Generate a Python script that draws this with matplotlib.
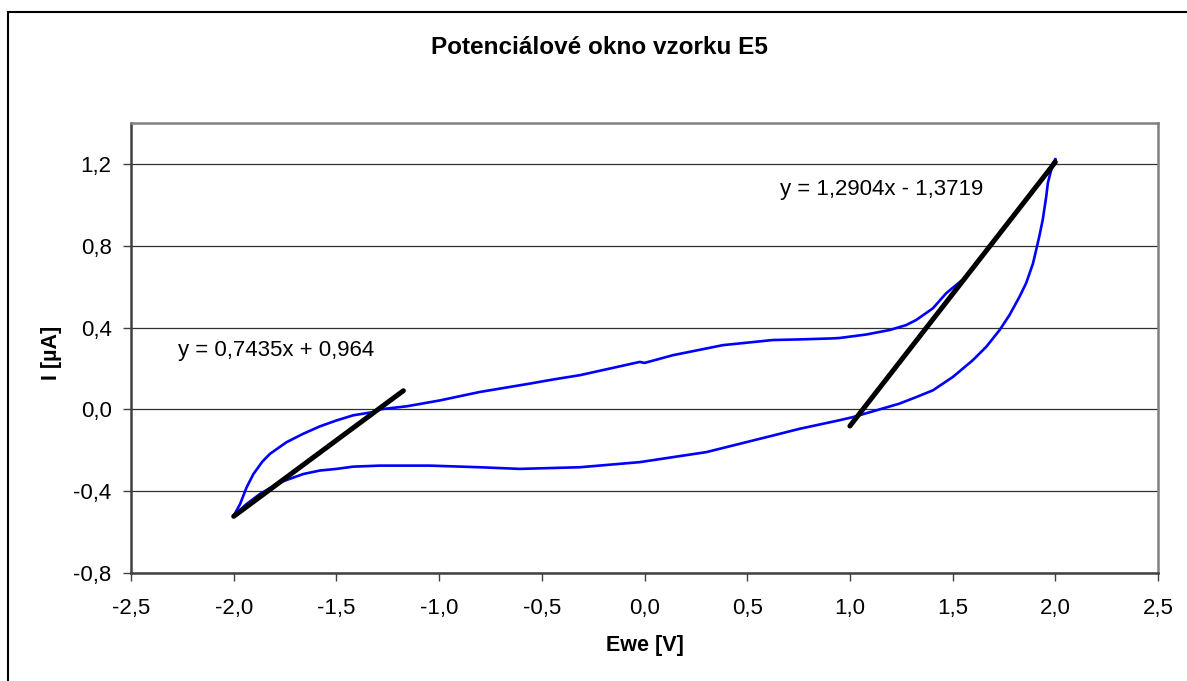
import matplotlib
matplotlib.use("Agg")
import matplotlib.pyplot as plt
from matplotlib.ticker import FuncFormatter, MultipleLocator
from matplotlib.patches import Rectangle

plt.rcParams['font.family'] = ['Liberation Sans', 'DejaVu Sans']

# Forward scan (upper branch), Ewe [V] vs I [uA]
fwd_x = [-2.000, -1.969, -1.937, -1.904, -1.860, -1.823, -1.742, -1.661, -1.580, -1.499,
         -1.418, -1.320, -1.288, -1.158, -1.045, -0.995, -0.802, -0.558, -0.445, -0.315,
         -0.023, 0.000, 0.139, 0.382, 0.625, 0.756, 0.918, 0.950, 1.080, 1.194, 1.274,
         1.323, 1.404, 1.469, 1.550, 1.650, 1.750, 1.850, 1.930, 1.980, 2.000]
fwd_y = [-0.520, -0.463, -0.381, -0.316, -0.255, -0.217, -0.160, -0.119, -0.083, -0.054,
         -0.029, -0.013, 0.000, 0.015, 0.035, 0.044, 0.085, 0.126, 0.146, 0.167,
         0.232, 0.227, 0.265, 0.314, 0.339, 0.342, 0.347, 0.349, 0.366, 0.388, 0.412,
         0.437, 0.494, 0.568, 0.635, 0.760, 0.888, 1.018, 1.120, 1.190, 1.222]

# Reverse scan (lower branch)
rev_x = [2.000, 1.980, 1.964, 1.956, 1.939, 1.923, 1.907, 1.891, 1.858, 1.826, 1.777,
         1.729, 1.664, 1.598, 1.502, 1.404, 1.323, 1.241, 1.128, 1.014, 0.950, 0.885,
         0.755, 0.625, 0.301, -0.023, -0.315, -0.607, -0.802, -1.045, -1.288, -1.418,
         -1.499, -1.580, -1.661, -1.775, -1.873, -1.940, -2.000]
rev_y = [1.222, 1.170, 1.108, 1.042, 0.928, 0.850, 0.780, 0.712, 0.617, 0.551, 0.461,
         0.388, 0.306, 0.240, 0.159, 0.093, 0.060, 0.028, -0.005, -0.038, -0.053, -0.067,
         -0.095, -0.128, -0.209, -0.258, -0.283, -0.291, -0.283, -0.275, -0.275, -0.280,
         -0.291, -0.299, -0.316, -0.357, -0.414, -0.465, -0.520]

# Linear trend lines
fit1_slope, fit1_icpt = 0.7435, 0.964
fit1_x = [-2.0, -1.174]
fit2_slope, fit2_icpt = 1.2904, -1.3719
fit2_x = [1.0, 2.0]

fit1_label = "y = 0,7435x + 0,964"
fit2_label = "y = 1,2904x - 1,3719"

title = "Potenciálové okno vzorku E5"
xlabel = "Ewe [V]"
ylabel = "I [µA]"

fig = plt.figure(figsize=(11.87, 6.81), dpi=100)
ax = fig.add_axes([131/1187, 1-573/681, (1158-131)/1187, (573-123)/681])

ax.plot(fwd_x, fwd_y, color='#0000FF', lw=1.9, zorder=3, solid_joinstyle='round')
ax.plot(rev_x, rev_y, color='#0000FF', lw=1.9, zorder=3, solid_joinstyle='round')
ax.plot(fit1_x, [fit1_slope*v + fit1_icpt for v in fit1_x], color='black', lw=3.6,
        solid_capstyle='round', zorder=4)
ax.plot(fit2_x, [fit2_slope*v + fit2_icpt for v in fit2_x], color='black', lw=3.6,
        solid_capstyle='round', zorder=4)

ax.text(-2.271, 0.29, fit1_label, fontsize=16, va='center', ha='left')
ax.text(0.658, 1.075, fit2_label, fontsize=16, va='center', ha='left')

ax.set_xlim(-2.5, 2.5)
ax.set_ylim(-0.8, 1.4)
ax.xaxis.set_major_locator(MultipleLocator(0.5))
ax.set_yticks([-0.8, -0.4, 0.0, 0.4, 0.8, 1.2])
fmt = FuncFormatter(lambda v, p: f"{v:.1f}".replace('.', ',').replace('-0,0', '0,0'))
ax.xaxis.set_major_formatter(fmt)
ax.yaxis.set_major_formatter(fmt)
ax.tick_params(axis='both', direction='out', length=6, width=1, color='#404040',
               labelsize=16)
ax.tick_params(axis='x', pad=12)
ax.tick_params(axis='y', pad=8)
ax.grid(axis='y', color='#303030', lw=0.9)
ax.set_axisbelow(True)
for s in ax.spines.values():
    s.set_color('#808080')
    s.set_linewidth(1.8)
ax.spines['left'].set_color('#404040')
ax.spines['bottom'].set_color('#404040')

fig.text(0.505, 1-48/681, title, fontsize=17.5, fontweight='bold', ha='center', va='center')
fig.text(645/1187, 1-645/681, xlabel, fontsize=15.5, fontweight='bold', ha='center', va='center')
fig.text(51/1187, 1-353/681, ylabel, fontsize=15.5, fontweight='bold', ha='center', va='center',
         rotation=90)

fig.patches.append(Rectangle((8/1187, -0.2), 1.2, 1-12/681+0.2, transform=fig.transFigure,
                             fill=False, edgecolor='black', lw=1.5))

fig.savefig('out.png', dpi=100)
